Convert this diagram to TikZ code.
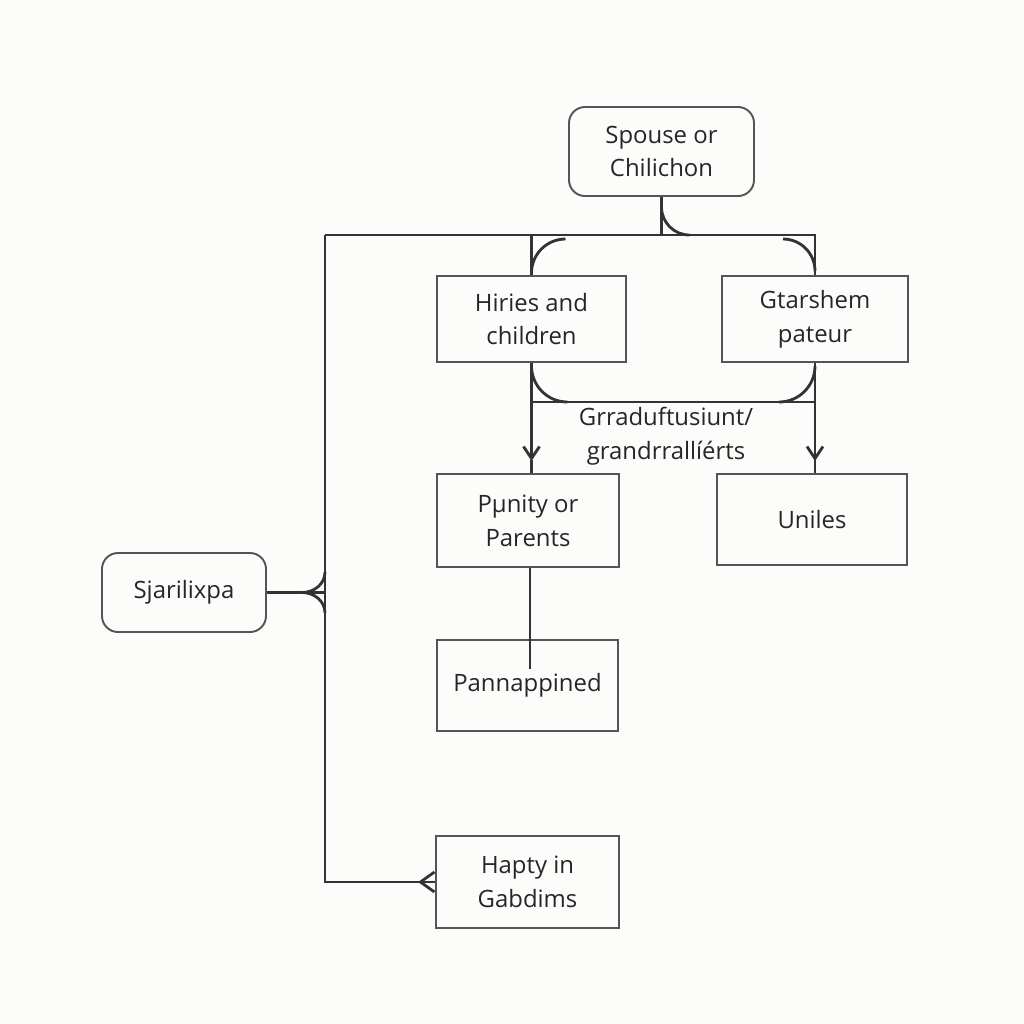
\documentclass[tikz,border=0pt]{standalone}
\usepackage{fontspec}
\setmainfont{Open Sans}
\usetikzlibrary{arrows.meta,calc}

\definecolor{linegray}{HTML}{333333}
\definecolor{boxgray}{HTML}{555555}
\definecolor{bggray}{HTML}{FCFCFB}

\begin{document}
\begin{tikzpicture}[
    box/.style={draw=boxgray, line width=0.55pt, align=center, inner sep=0pt,
      text=black!85, font=\fontsize{6.8}{9.6}\selectfont},
    link/.style={draw=linegray, line width=0.8pt},
    tip/.style={-{Straight Barb[length=1.2mm,width=1.6mm]}}
  ]
\useasboundingbox[fill=bggray] (0,0) rectangle (10.24,-10.24);

% boxes
\node[box, rounded corners=1.6mm, minimum width=1.85cm, minimum height=0.89cm] (spouse) at (6.615,-1.515) {Spouse or\\Chilichon};
\node[box, minimum width=1.89cm, minimum height=0.86cm] (hiries) at (5.315,-3.19) {Hiries and\\children};
\node[box, minimum width=1.86cm, minimum height=0.86cm] (gtar) at (8.15,-3.19) {Gtarshem\\pateur};
\node[box, minimum width=1.82cm, minimum height=0.93cm] (punity) at (5.28,-5.205) {Pμnity or\\Parents};
\node[box, minimum width=1.90cm, minimum height=0.91cm] (uniles) at (8.12,-5.195) {Uniles};
\node[box, minimum width=1.81cm, minimum height=0.91cm] (pann) at (5.275,-6.855) {Pannappined};
\node[box, minimum width=1.83cm, minimum height=0.92cm] (hapty) at (5.275,-8.82) {Hapty in\\Gabdims};
\node[box, rounded corners=1.6mm, minimum width=1.64cm, minimum height=0.79cm] (sjar) at (1.84,-5.925) {Sjarilixpa};

\node[box, draw=none] (grad) at (6.66,-4.36) {Grraduftusiunt/\\grandrrallíérts};

% top bar
\coordinate (tl) at (3.25,-2.35);
\coordinate (tr) at (8.15,-2.35);
\draw[link] (tl) -- (tr) -- (gtar.north);
\draw[link] (spouse.south) -- (spouse.south |- tl);
\draw[link] (6.615,-2.07) arc[start angle=180, end angle=270, radius=0.28];
\draw[link] (hiries.north |- tl) -- (hiries.north);
\draw[link] (5.315,-2.73) arc[start angle=180, end angle=90, radius=0.34];
\draw[link] (7.83,-2.39) arc[start angle=90, end angle=0, radius=0.32];

% lower bar
\coordinate (bl) at (5.315,-4.02);
\coordinate (br) at (8.15,-4.02);
\draw[link] (bl) -- (br);
\draw[link] (5.315,-3.66) arc[start angle=180, end angle=270, radius=0.36];
\draw[link] (7.79,-4.02) arc[start angle=270, end angle=360, radius=0.36];
\draw[link, tip] (hiries.south) -- ($(hiries.south |- punity.north)+(0,0.12)$);
\draw[link] (hiries.south |- punity.north) -- ++(0,0.13);
\draw[link, tip] (gtar.south) -- ($(gtar.south |- uniles.north)+(0,0.12)$);
\draw[link] (gtar.south |- uniles.north) -- ++(0,0.13);

% down to Pannappined
\coordinate (pannend) at (5.30,-6.69);
\draw[link] (punity.south -| pannend) -- (pannend);

% left side
\draw[link] (tl) -- (tl |- hapty.west) -- (hapty.west);
\draw[link, -{Straight Barb[length=1.4mm,width=2mm]}] (hapty.west) -- ++(-0.17,0);
\draw[link] (sjar.east) -- (sjar.east -| tl);
\draw[link] (3.02,-5.925) to[out=0, in=-90] (3.25,-5.72);
\draw[link] (3.02,-5.925) to[out=0, in=90] (3.25,-6.13);
\end{tikzpicture}
\end{document}
